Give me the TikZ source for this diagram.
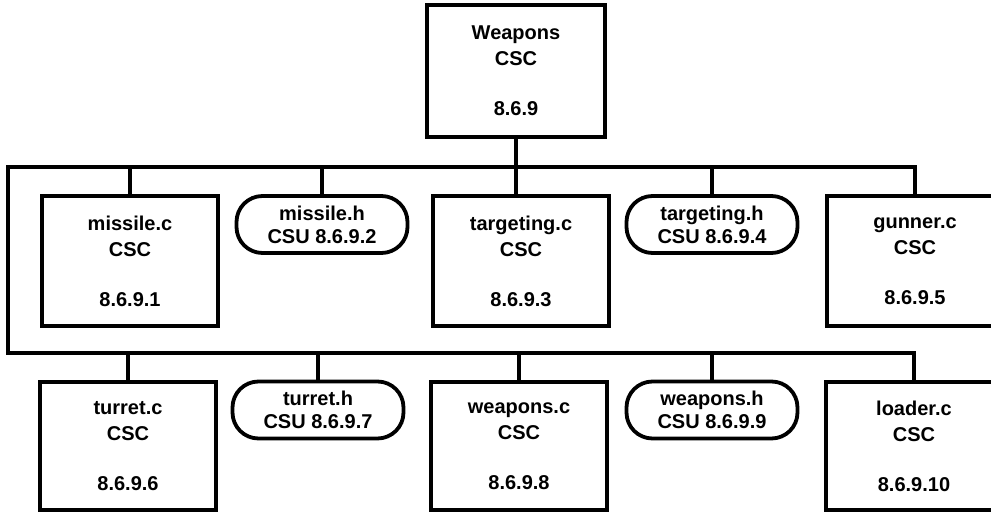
\documentclass[tikz,border=0pt]{standalone}
\usepackage{fontspec}
\setmainfont{Liberation Sans}
\tikzset{
  wpn/.style={x=0.5pt, y=-0.5pt, font=\bfseries\fontsize{10}{13}\selectfont},
  w box/.style={draw, line width=1.9pt, align=center, minimum width=88pt, minimum height=65pt, inner sep=0pt},
  w unit/.style={draw, line width=1.9pt, rounded corners=13pt, align=center, minimum width=85.5pt,
                 minimum height=28.5pt, inner sep=0pt, font=\bfseries\fontsize{10}{11.5}\selectfont},
  w bus/.style={line width=1.7pt},
}

\begin{document}
\begin{tikzpicture}[wpn]
\clip (0,0) rectangle (991,512);
% ---- parent CSC ----
\node[w box, minimum width=89pt, minimum height=66pt] (weap) at (516,71) {Weapons\\CSC\\[12pt]8.6.9};
% ---- first row ----
\node[w box]  (mslc) at (130,261)   {missile.c\\CSC\\[12pt]8.6.9.1};
\node[w unit] (mslh) at (322,224.5) {missile.h\\CSU 8.6.9.2};
\node[w box]  (tgtc) at (521,261)   {targeting.c\\CSC\\[12pt]8.6.9.3};
\node[w unit] (tgth) at (712,224.5) {targeting.h\\CSU 8.6.9.4};
\node[w box]  (gunc) at (915,261)   {gunner.c\\CSC\\[12pt]8.6.9.5};
% ---- second row ----
\node[w box, minimum height=64pt] (turc) at (128,446) {turret.c\\CSC\\[12pt]8.6.9.6};
\node[w unit] (turh) at (318,410)   {turret.h\\CSU 8.6.9.7};
\node[w box, minimum height=64pt] (wpnc) at (519,446) {weapons.c\\CSC\\[12pt]8.6.9.8};
\node[w unit] (wpnh) at (712,410)   {weapons.h\\CSU 8.6.9.9};
\node[w box, minimum height=64pt] (ldrc) at (914,446) {loader.c\\CSC\\[12pt]8.6.9.10};
% ---- buses ----
\coordinate (bus1) at (8,167);
\coordinate (bus2) at (8,353);
\draw[w bus] (weap.south) -- (weap.south |- tgtc.north);
\draw[w bus] (gunc.north) |- (bus1) -- (bus2) -| (ldrc.north);
\draw[w bus] (mslc.north) -- (mslc.north |- bus1); \draw[w bus] (mslh.north) -- (mslh.north |- bus1);
\draw[w bus] (tgth.north) -- (tgth.north |- bus1);
\draw[w bus] (turc.north) -- (turc.north |- bus2); \draw[w bus] (turh.north) -- (turh.north |- bus2);
\draw[w bus] (wpnc.north) -- (wpnc.north |- bus2); \draw[w bus] (wpnh.north) -- (wpnh.north |- bus2);
\end{tikzpicture}
\end{document}
